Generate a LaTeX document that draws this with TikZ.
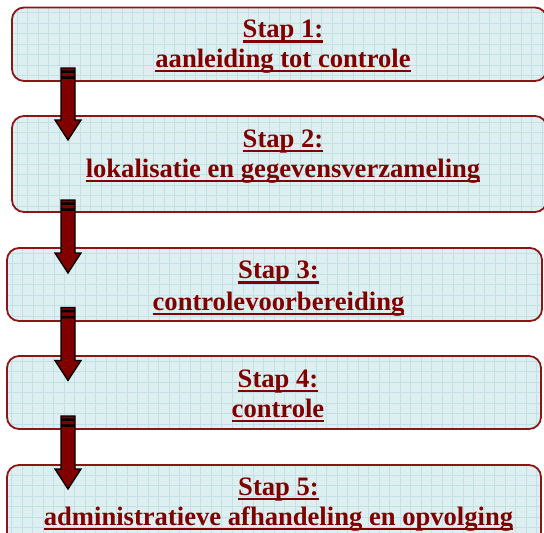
\documentclass[tikz,border=0pt]{standalone}
\usepackage{fontspec}
\setmainfont{Liberation Serif}
\usetikzlibrary{calc}
\definecolor{txtred}{RGB}{128,0,0}
\definecolor{boxborder}{RGB}{140,22,22}
\definecolor{boxfill}{RGB}{221,239,241}
\definecolor{gridc}{RGB}{194,225,228}
\definecolor{arrowred}{RGB}{128,0,0}
\newcommand\ulx[1]{\setbox0\hbox{#1}\rlap{\rule[-5.3pt]{\wd0}{2.6pt}}\box0}
\newcommand\stripearrow[2]{%
  \path let \p1=(#1), \p2=(#2) in
    [arrowstyle] (\x1-7pt,\y1) rectangle (\x1+7pt,\y1-3pt)
    [arrowstyle] (\x1-7pt,\y1-4.2pt) rectangle (\x1+7pt,\y1-9pt)
    [arrowstyle] (\x1-7pt,\y1-10.2pt) -- (\x1+7pt,\y1-10.2pt) -- (\x1+7pt,\y2+20pt)
      -- (\x1+13pt,\y2+20pt) -- (\x2,\y2) -- (\x1-13pt,\y2+20pt) -- (\x1-7pt,\y2+20pt) -- cycle;}
\begin{document}
\begin{tikzpicture}[x=1pt,y=-1pt,
  box/.style={draw=boxborder, line width=1.8pt, fill=boxfill, rounded corners=12pt,
    inner sep=0pt, outer sep=0pt,
    path picture={\draw[gridc, line width=0.7pt] (path picture bounding box.south west) grid[step=10.5pt] (path picture bounding box.north east);}},
  label/.style={anchor=base, inner sep=0pt, text=txtred,
    font=\fontsize{26.6}{30}\selectfont\bfseries},
  arrowstyle/.style={fill=arrowred, draw=black, line width=1.3pt, line join=miter}]
\useasboundingbox (0,0) rectangle (544,533);
% boxes
\node[box, minimum width=535pt, minimum height=73.5pt] (b1) at (279.5,44.25) {};
\node[box, minimum width=535pt, minimum height=96pt] (b2) at (279.5,164) {};
\node[box, minimum width=535pt, minimum height=73pt] (b3) at (274.5,284.5) {};
\node[box, minimum width=534pt, minimum height=73pt] (b4) at (274,392.5) {};
\node[box, minimum width=534pt, minimum height=83pt] (b5) at (274,506.5) {};
% texts
\node[label] (s1) at (283,37.5) {\ulx{Stap 1:}};
\node[label] (t1) at (283,67) {\ulx{aanleiding tot controle}};
\node[label] (s2) at (283,147) {\ulx{Stap 2:}};
\node[label] (t2) at (283,177) {\ulx{lokalisatie en gegevensverzameling}};
\node[label] (s3) at (278.5,278.5) {\ulx{Stap 3:}};
\node[label] (t3) at (278.5,310) {\ulx{controlevoorbereiding}};
\node[label] (s4) at (278,387) {\ulx{Stap 4:}};
\node[label] (t4) at (278,417) {\ulx{controle}};
\node[label] (s5) at (278.5,495) {\ulx{Stap 5:}};
\node[label] (t5) at (278.5,525) {\ulx{administratieve afhandeling en opvolging}};
% arrows
\coordinate (a1s) at (68,68);  \coordinate (a1e) at (68,140);
\coordinate (a2s) at (68,200); \coordinate (a2e) at (68,273);
\coordinate (a3s) at (68,307.5); \coordinate (a3e) at (68,380.5);
\coordinate (a4s) at (68,416); \coordinate (a4e) at (68,489);
\stripearrow{a1s}{a1e}
\stripearrow{a2s}{a2e}
\stripearrow{a3s}{a3e}
\stripearrow{a4s}{a4e}
\end{tikzpicture}
\end{document}
